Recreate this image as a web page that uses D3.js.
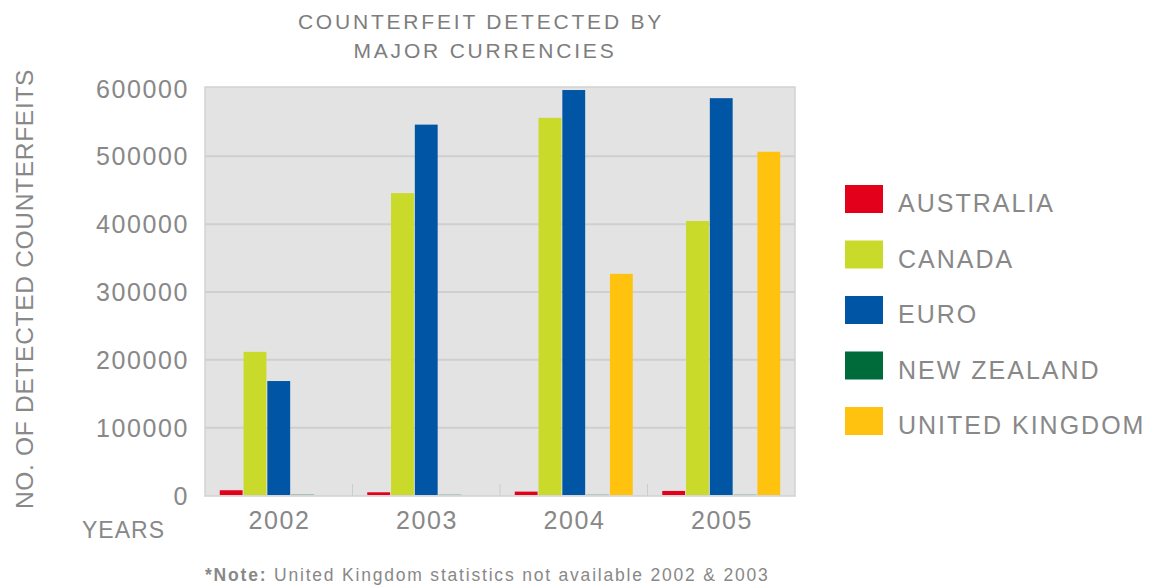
<!DOCTYPE html>
<html><head><meta charset="utf-8">
<script src="https://cdn.jsdelivr.net/npm/d3@7"></script>
<style>body{margin:0;background:#fff;}svg{display:block;font-family:"Liberation Sans",Arial,sans-serif;}</style>
</head><body><svg id="c" width="1153" height="586"></svg>
<script>
const years = ["2002","2003","2004","2005"];
const seriesNames = ["AUSTRALIA","CANADA","EURO","NEW ZEALAND","UNITED KINGDOM"];
const australia = [7000,4000,5000,6000];
const canada = [211000,445000,556000,404000];
const euro = [168000,546000,597000,585000];
const newZealand = [400,300,300,300];
const unitedKingdom = [0,0,326000,506000];
const yTicks = [0,100000,200000,300000,400000,500000,600000];
const colors = ["#e2001a","#c9da2a","#0055a5","#006b3a","#ffc20e"];
const seriesValues = [australia,canada,euro,newZealand,unitedKingdom];

const svg = d3.select("#c");
const L=205, R=795, T=87, B=496;
const txt="#888";
const x0 = d3.scaleBand().domain(years).range([L,R]).paddingInner(0).paddingOuter(0);
const x1 = d3.scaleBand().domain(seriesNames).range([0,x0.bandwidth()]).paddingInner(0.04).paddingOuter(0.62);
const y = d3.scaleLinear().domain([0,600000]).range([B-1,88]);

svg.append("rect").attr("x",L).attr("y",T).attr("width",R-L).attr("height",B-T)
  .attr("fill","#e3e3e3").attr("stroke","#d2d2d2").attr("stroke-width",1.5);
const grid = svg.append("g").attr("transform",`translate(${L},0)`)
  .call(d3.axisLeft(y).tickValues(yTicks.filter(v=>v>0&&v<600000)).tickSize(-(R-L)).tickFormat(""));
grid.select(".domain").remove();
grid.selectAll("line").attr("stroke","#cfcfcf").attr("stroke-width",2);

svg.selectAll(".sep").data(years.slice(1)).join("line")
  .attr("x1",d=>x0(d)).attr("x2",d=>x0(d)).attr("y1",B-12).attr("y2",B)
  .attr("stroke","#cccccc").attr("stroke-width",1);

const yAx = svg.append("g").attr("transform",`translate(${L-13},0)`)
  .call(d3.axisLeft(y).tickValues(yTicks).tickSize(0).tickFormat(d3.format("d")));
yAx.select(".domain").remove();
yAx.selectAll("text").attr("fill",txt).attr("font-size",25).attr("letter-spacing",1.6).attr("dy","0.36em");

years.forEach((yr,i)=>{
  seriesNames.forEach((s,j)=>{
    const v = seriesValues[j][i];
    if(v<=0) return;
    svg.append("rect").attr("x",x0(yr)+x1(s)).attr("width",x1.bandwidth())
      .attr("y",y(v)).attr("height",y(0)-y(v)).attr("fill",colors[j]);
  });
});

const xAx = svg.append("g").attr("transform",`translate(0,${B})`)
  .call(d3.axisBottom(x0).tickSize(0));
xAx.select(".domain").remove();
xAx.selectAll("text").attr("fill",txt).attr("font-size",25).attr("letter-spacing",1.6)
  .attr("dx","0.8").attr("dy","1.2em");

svg.append("text").attr("x",82).attr("y",538).attr("fill",txt).attr("font-size",23).attr("letter-spacing",1).text("YEARS");

svg.append("text").attr("transform","translate(33,289) rotate(-90)").attr("text-anchor","middle")
  .attr("fill",txt).attr("font-size",24.5).attr("letter-spacing",0.7).text("NO. OF DETECTED COUNTERFEITS");

const title = svg.append("text").attr("text-anchor","middle").attr("fill","#7d7d7d").attr("font-size",21).attr("letter-spacing",2.8);
title.append("tspan").attr("x",481).attr("y",29).text("COUNTERFEIT DETECTED BY");
title.append("tspan").attr("x",485).attr("y",58).text("MAJOR CURRENCIES");

const note = svg.append("text").attr("x",205).attr("y",581).attr("fill",txt).attr("font-size",17.5).attr("letter-spacing",1.8);
note.append("tspan").attr("font-weight","bold").text("*Note:");
note.append("tspan").text(" United Kingdom statistics not available 2002 & 2003");

const leg = svg.append("g").attr("transform","translate(845,185)");
seriesNames.forEach((s,j)=>{
  const g = leg.append("g").attr("transform",`translate(0,${j*55.5})`);
  g.append("rect").attr("width",38).attr("height",28).attr("fill",colors[j]);
  g.append("text").attr("x",53).attr("y",18).attr("dy","0.36em").attr("fill",txt).attr("font-size",25).attr("letter-spacing",2).text(s);
});
</script></body></html>
